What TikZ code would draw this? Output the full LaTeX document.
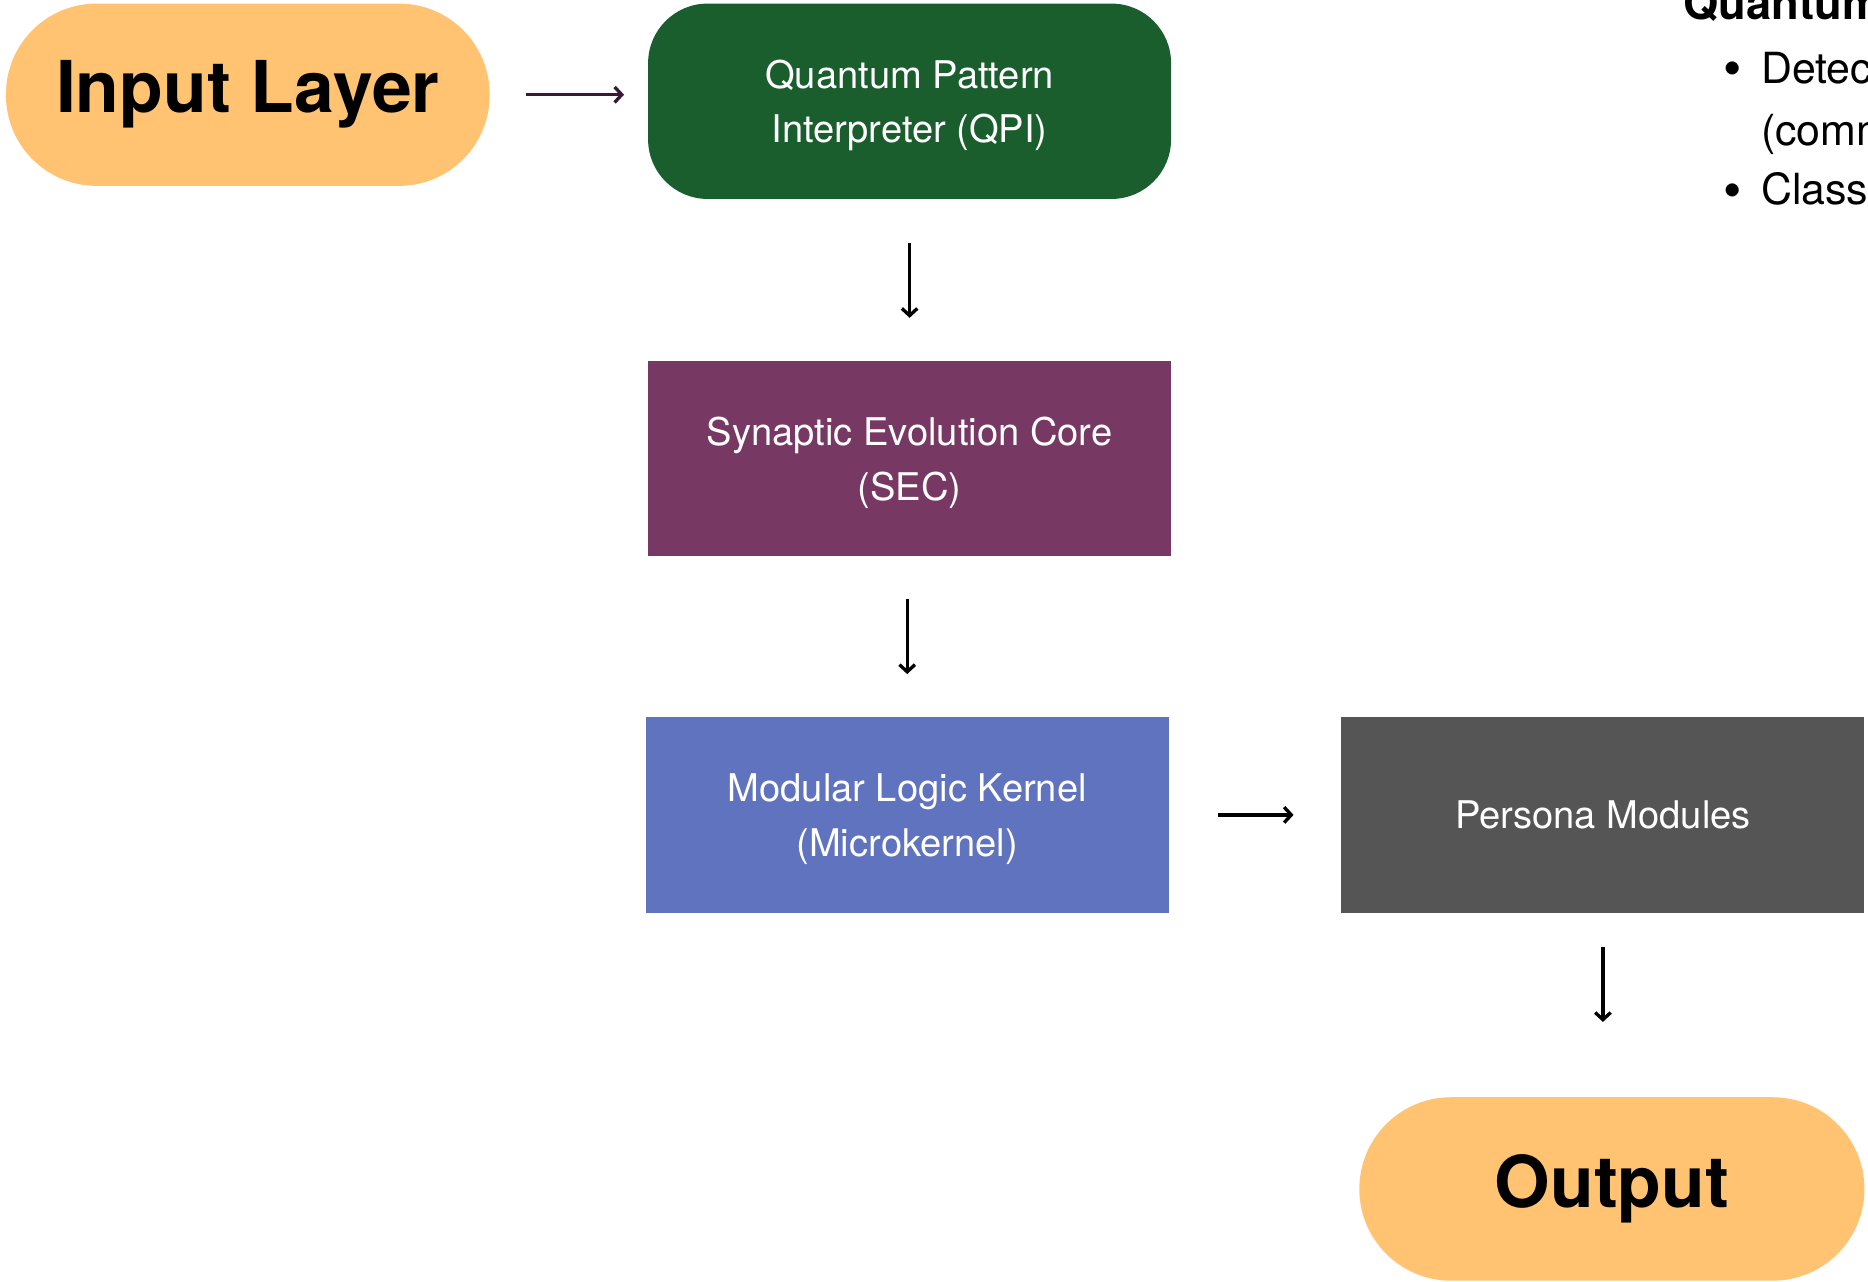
\documentclass[tikz,border=0pt]{standalone}
\usepackage{fontspec}
\setmainfont{TeX Gyre Heros}
\usetikzlibrary{arrows.meta}
\definecolor{pillc}{HTML}{FFC372}
\definecolor{qgreen}{HTML}{1A5E2E}
\definecolor{plum}{HTML}{773864}
\definecolor{kblue}{HTML}{6073BE}
\definecolor{pgray}{HTML}{555555}
\definecolor{arrp}{HTML}{3A1838}
\tikzset{
  pillbox/.style={fill=pillc, rounded corners=76pt, inner sep=0pt, text=black,
    font=\fontsize{60}{70}\selectfont\bfseries},
  blockbox/.style={inner sep=0pt, text=white, align=center, text depth=0pt,
    minimum width=439pt, minimum height=164pt,
    font=\fontsize{32}{46}\selectfont},
  flowarrow/.style={line width=2.8pt, -{Straight Barb[length=6pt,width=13pt]}},
  sidetext/.style={anchor=base west, inner sep=0pt, text=black, font=\fontsize{36}{40}\selectfont},
  bulletmark/.style={anchor=base, inner sep=0pt, text=black, font=\fontsize{44}{44}\selectfont}
}
\begin{document}
\begin{tikzpicture}[x=1pt,y=-1pt]
\useasboundingbox (0,0) rectangle (1568,1076);
\clip (0,0) rectangle (1568,1076);

\node[pillbox, minimum width=406pt, minimum height=153pt] (inl) at (208,79.5) {Input Layer};
\node[blockbox, fill=qgreen, rounded corners=50pt] (qpi) at (763.5,85) {Quantum Pattern\\Interpreter (QPI)};
\node[blockbox, fill=plum] (sec) at (763.5,385) {Synaptic Evolution Core\\(SEC)};
\node[blockbox, fill=kblue] (mlk) at (761.5,684) {Modular Logic Kernel\\(Microkernel)};
\node[blockbox, fill=pgray] (per) at (1345.5,684) {Persona Modules};
\node[pillbox, minimum width=424pt, minimum height=154pt, rounded corners=77pt] (out) at (1353,998) {Output};

\node[sidetext, font=\fontsize{38}{40}\selectfont\bfseries] (qh) at (1413,16) {Quantum};
\node[bulletmark] (d1) at (1454,73) {\textbullet};
\node[sidetext] (b1) at (1478,70) {Detects};
\node[sidetext] (b2) at (1478,122) {(common};
\node[bulletmark] (d3) at (1454,175) {\textbullet};
\node[sidetext] (b3) at (1478,172) {Classifies};

\draw[flowarrow, arrp, shorten <=30pt, shorten >=20pt] (inl.east) -- (inl.east -| qpi.west);
\draw[flowarrow, black, shorten <=37pt, shorten >=36pt] (qpi.south) -- (sec.north);
\draw[flowarrow, black, shorten <=36pt, shorten >=36pt] (mlk.north |- sec.south) -- (mlk.north);
\draw[flowarrow, black, shorten <=41pt, shorten >=40pt] (mlk.east) -- (per.west);
\draw[flowarrow, black, shorten <=29pt, shorten >=63pt] (per.south) -- (per.south |- out.north);
\end{tikzpicture}
\end{document}
